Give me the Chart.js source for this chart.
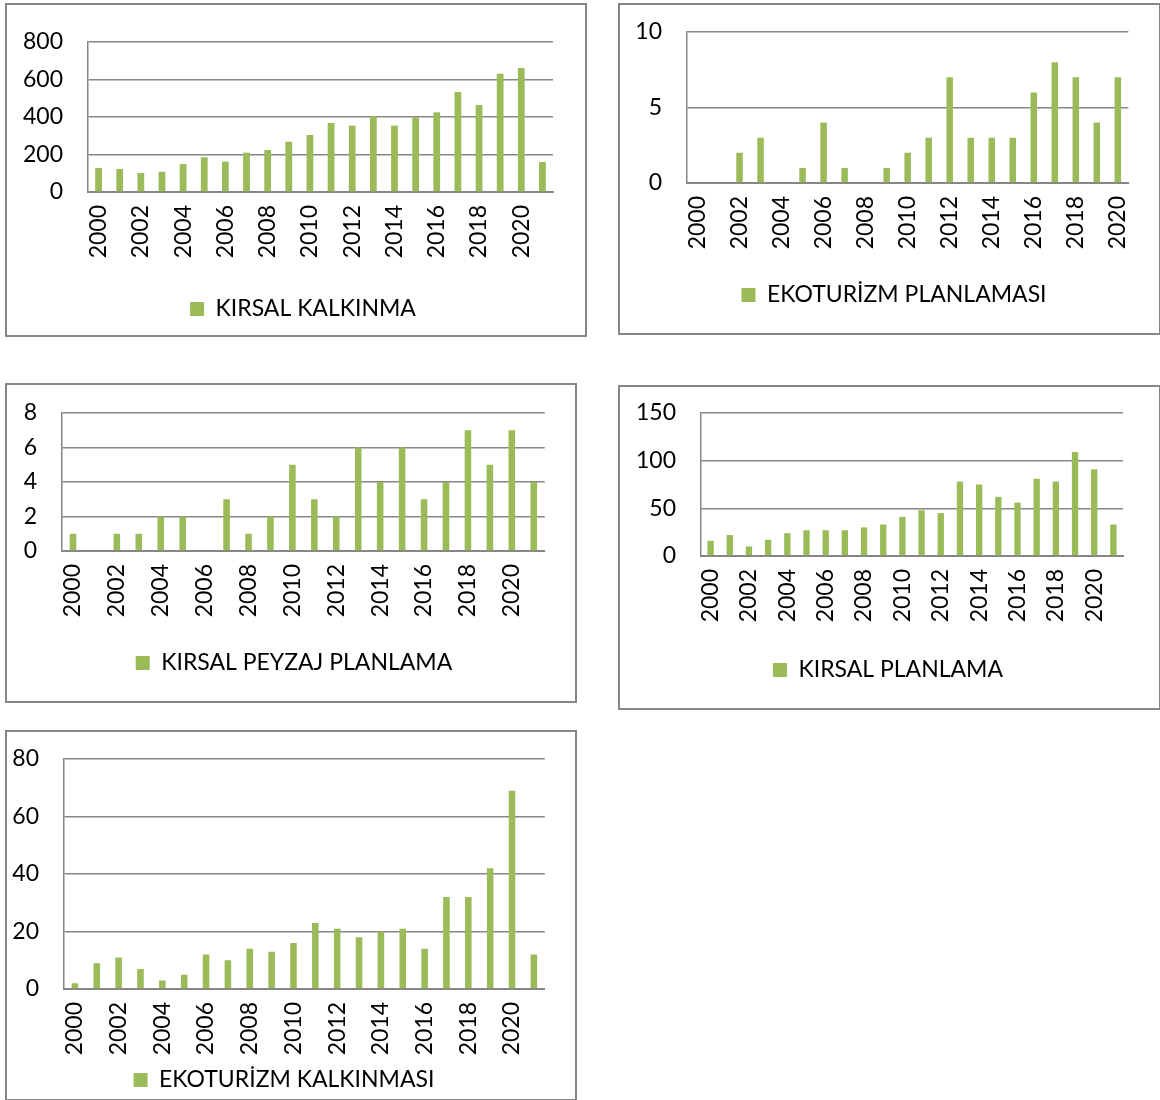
<!DOCTYPE html>
<html>
<head>
<meta charset="utf-8">
<script src="https://cdn.jsdelivr.net/npm/chart.js@4/dist/chart.umd.min.js"></script>
<style>
body{margin:0;background:#fff;width:1160px;height:1100px;overflow:hidden;position:relative}
.box{position:absolute;border:2px solid #868686;box-sizing:border-box;background:#fff}
.box div{position:relative;width:100%;height:100%}
</style>
</head>
<body>
<div class="box" id="b1"><div><canvas id="c1"></canvas></div></div>
<div class="box" id="b2"><div><canvas id="c2"></canvas></div></div>
<div class="box" id="b3"><div><canvas id="c3"></canvas></div></div>
<div class="box" id="b4"><div><canvas id="c4"></canvas></div></div>
<div class="box" id="b5"><div><canvas id="c5"></canvas></div></div>
<script>
const years=["2000","2001","2002","2003","2004","2005","2006","2007","2008","2009","2010",
  "2011","2012","2013","2014","2015","2016","2017","2018","2019","2020","2021"]
const years21=years.slice(0,21)

const kirsalKalkinma=[128,123,101,108,149,185,162,210,224,268,304,368,354,404,354,398,425,533,464,631,661,160]
const ekoturizmPlanlamasi=[0,0,2,3,0,1,4,1,0,1,2,3,7,3,3,3,6,8,7,4,7]
const kirsalPeyzaj=[1,0,1,1,2,2,0,3,1,2,5,3,2,6,4,6,3,4,7,5,7,4]
const kirsalPlanlama=[16,22,10,17,24,27,27,27,30,33,41,48,45,78,75,62,56,81,78,109,91,33]
const ekoturizmKalkinmasi=[2,9,11,7,3,5,12,10,14,13,16,23,21,18,20,21,14,32,32,42,69,12]

const fontSize=23
Chart.defaults.font.family="Lato, 'Open Sans', sans-serif"
Chart.defaults.font.size=fontSize
Chart.defaults.color="#000"

const green="#9bbb59"
const gray="#868686"

// box = outer frame [left, top, right, bottom], plot = chart area,
// legend = [centre x of legend item, centre y of legend text]
function makeChart(id,box,plot,legend,labels,values,name,max,step,barPct){
  const el=document.getElementById("b"+id)
  el.style.left=box[0]+"px"
  el.style.top=box[1]+"px"
  el.style.width=(box[2]-box[0])+"px"
  el.style.height=(box[3]-box[1])+"px"
  const ox=box[0]+2, oy=box[1]+2
  const w=box[2]-box[0]-4, h=box[3]-box[1]-4
  const legTop=legend[1]-oy-10-fontSize/2
  const padBottom=h-(legTop+fontSize+20)
  // move the legend sideways so it sits where the original has it
  const legendShift={
    id:"legendShift",
    afterLayout(chart){
      const L=chart.legend
      const dx=(legend[0]-ox)-(L.left+L.right)/2
      L.left+=dx
      L.right+=dx
    },
  }
  return new Chart(document.getElementById("c"+id).getContext("2d"),{
    type:"bar",
    data:{
      labels:labels,
      datasets:[{
        label:name,
        data:values,
        backgroundColor:green,
        borderWidth:0,
        categoryPercentage:1,
        barPercentage:barPct,
      }],
    },
    options:{
      responsive:true,
      maintainAspectRatio:false,
      animation:false,
      layout:{padding:{top:plot[1]-oy,right:ox+w-plot[2],bottom:padBottom,left:0}},
      plugins:{
        tooltip:{enabled:false},
        legend:{
          position:"bottom",
          labels:{boxWidth:14,boxHeight:14,padding:10,color:"#000"},
        },
      },
      scales:{
        x:{
          grid:{display:false,drawTicks:false},
          border:{display:true,color:gray,width:2},
          ticks:{
            autoSkip:false,minRotation:90,maxRotation:90,padding:13,
            callback:function(v,i){return i%2===0?this.getLabelForValue(v):""},
          },
          afterFit:function(s){s.height=legTop-(plot[3]-oy)},
        },
        y:{
          min:0,max:max,
          ticks:{stepSize:step,padding:0},
          grid:{color:gray,lineWidth:1.5,drawTicks:true,tickLength:25,tickColor:"rgba(0,0,0,0)"},
          border:{display:true,color:gray,width:1.5},
          afterFit:function(s){s.width=plot[0]-ox},
        },
      },
    },
    plugins:[legendShift],
  })
}

makeChart(1,[5,3,587,337],[88,42,553,192],[303,309],years,kirsalKalkinma,"KIRSAL KALKINMA",800,200,0.32)
makeChart(2,[618,3,1161,335],[687,32,1135,183],[894,295],years21,ekoturizmPlanlamasi,"EKOTURİZM PLANLAMASI",10,5,0.31)
makeChart(3,[5,383,577,703],[62,413,547,551],[294,663],years,kirsalPeyzaj,"KIRSAL PEYZAJ PLANLAMA",8,2,0.3)
makeChart(4,[618,385,1161,710],[701,413,1123,556],[888,670],years,kirsalPlanlama,"KIRSAL PLANLAMA",150,50,0.33)
makeChart(5,[5,730,577,1101],[64,759,552,989],[284,1080],years,ekoturizmKalkinmasi,"EKOTURİZM KALKINMASI",80,20,0.3)
</script>
</body>
</html>
